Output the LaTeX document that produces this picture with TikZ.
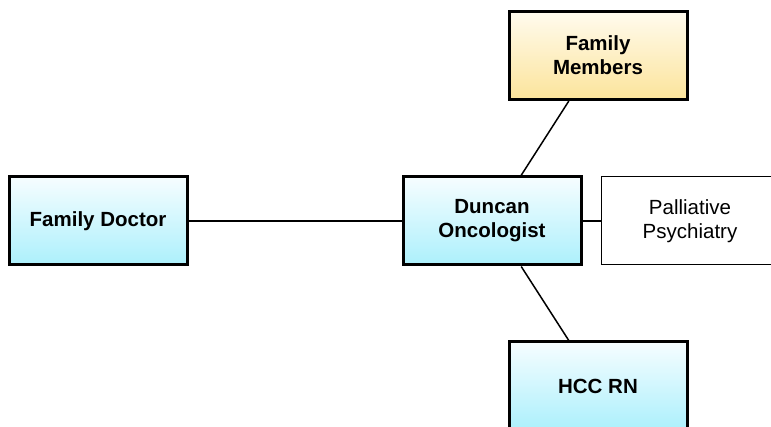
\documentclass[tikz,border=0pt]{standalone}
\usepackage{fontspec}
\setmainfont{Liberation Sans}
\usetikzlibrary{shadows}
\definecolor{cyanbot}{RGB}{172,240,252}
\definecolor{cyantop}{RGB}{246,253,255}
\definecolor{yelbot}{RGB}{252,228,155}
\definecolor{yeltop}{RGB}{255,251,238}
\tikzset{
  box/.style={rectangle, minimum width=178pt, minimum height=88pt, inner sep=0pt,
    align=center, font=\fontsize{20.5}{24}\selectfont\bfseries},
  bluebox/.style={box, draw=black, line width=3pt, top color=cyantop, bottom color=cyanbot,
    drop shadow={shadow xshift=1pt, shadow yshift=-1pt, opacity=0.35}},
  yellowbox/.style={box, draw=black, line width=3pt, top color=yeltop, bottom color=yelbot,
    drop shadow={shadow xshift=1pt, shadow yshift=-1pt, opacity=0.35}},
  plainbox/.style={box, draw=black, line width=1pt, fill=white,
    font=\fontsize{20.5}{24}\selectfont},
  link/.style={line width=1.5pt, draw=black}
}
\begin{document}
\begin{tikzpicture}[x=1pt,y=-1pt]
\useasboundingbox (0,0) rectangle (771,427);
\clip (0,0) rectangle (771,427);
\fill[white] (0,0) rectangle (771,427);
\node[bluebox] (fd) at (98,221) {Family Doctor};
\node[bluebox] (dn) at (492,221) {Duncan\\Oncologist};
\node[yellowbox] (fm) at (598,55.5) {Family\\Members};
\node[plainbox] (pp) at (690,221) {Palliative\\Psychiatry};
\node[bluebox] (hcc) at (598,386) {HCC RN};
\draw[link] (fd) -- (dn);
\draw[link] (dn) -- (pp);
\draw[link] (fm) -- (dn);
\draw[link] (dn) -- (hcc);
\end{tikzpicture}
\end{document}
